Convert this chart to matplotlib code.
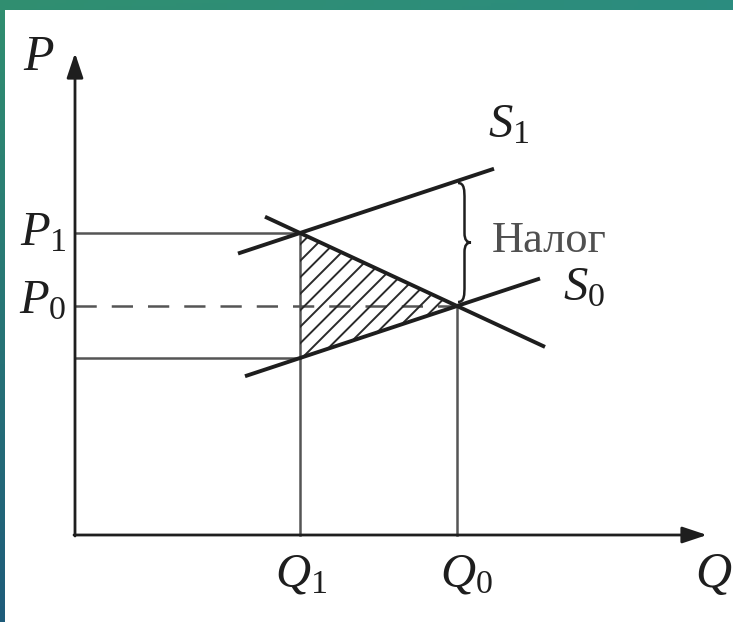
import numpy as np
import matplotlib
matplotlib.use('Agg')
import matplotlib.pyplot as plt
from matplotlib.patches import Polygon, PathPatch, Rectangle
from matplotlib.path import Path

plt.rcParams['mathtext.fontset'] = 'custom'
plt.rcParams['mathtext.rm'] = 'Liberation Serif'
plt.rcParams['mathtext.it'] = 'Liberation Serif:italic'

# market values (1 unit = 10 px on the picture)
Q1, Q0 = 22.5, 38.2          # quantity with tax, without tax
P1, P0, Pc = 30.2, 22.9, 17.7  # buyer price, old price, seller price
tax = P1 - Pc

# demand through (Q1,P1),(Q0,P0); supply S0 through (Q1,Pc),(Q0,P0)
d_slope = (P0 - P1) / (Q0 - Q1)
s_slope = (P0 - Pc) / (Q0 - Q1)
D_range = [19.0, 47.0]
S0_range = [17.0, 46.5]
S1_range = [16.3, 41.9]

def demand(q):
    return P1 + d_slope * (np.asarray(q) - Q1)

def supply0(q):
    return Pc + s_slope * (np.asarray(q) - Q1)

def supply1(q):
    return supply0(q) + tax

fig = plt.figure(figsize=(7.33, 6.22), dpi=100)

# teal background frame
bg = fig.add_axes([0, 0, 1, 1])
yy, xx = np.mgrid[0:1:200j, 0:1:200j]
top_l = np.array([0.19, 0.56, 0.44])
top_r = np.array([0.17, 0.55, 0.50])
bot_l = np.array([0.12, 0.36, 0.48])
img = (top_l * (1 - xx)[..., None] * (1 - yy)[..., None]
       + top_r * xx[..., None] * (1 - yy)[..., None]
       + bot_l * (1 - xx)[..., None] * yy[..., None]
       + top_r * xx[..., None] * yy[..., None])
bg.imshow(img, extent=[0, 1, 0, 1], aspect='auto')
bg.set_axis_off()
bg.add_patch(Rectangle((5 / 733, 0), 1, 612 / 622, facecolor='white',
                       edgecolor='none', transform=fig.transFigure))

ax = fig.add_axes([0, 0, 1, 1])
ax.patch.set_alpha(0)
ax.set_xlim(-7.5, 65.8)
ax.set_ylim(-8.7, 53.5)
ax.set_axis_off()

ink = '#1e1e1e'
guide = '#555555'

# axes with arrows
arr = dict(arrowstyle='-|>,head_length=1.5,head_width=0.5', lw=2.0,
           color=ink, shrinkA=0, shrinkB=0)
ax.annotate('', xy=(0, 48.2), xytext=(0, -0.1), arrowprops=arr)
ax.annotate('', xy=(63.2, 0), xytext=(-0.1, 0), arrowprops=arr)

# guide lines
ax.plot([0, Q1], [P1, P1], color=guide, lw=1.8)
ax.plot([0, Q1], [Pc, Pc], color=guide, lw=1.8)
ax.plot([0, Q0], [P0, P0], color=guide, lw=1.8, linestyle=(0, (8.5, 6)))
ax.plot([Q1, Q1], [0, P1], color=guide, lw=1.8)
ax.plot([Q0, Q0], [0, P0], color=guide, lw=1.8)

# deadweight loss triangle, hatched with 45 degree lines
tri = Polygon([(Q1, P1), (Q1, Pc), (Q0, P0)], closed=True, fill=False,
              edgecolor='none', lw=0)
ax.add_patch(tri)
for c in np.arange(Pc - Q0 - 1.0, P1 - Q1 + 0.1, 1.65):
    ln, = ax.plot([Q1 - 2, Q0 + 2], [Q1 - 2 + c, Q0 + 2 + c],
                  color='#2a2a2a', lw=1.4)
    ln.set_clip_path(tri)

# demand and supply lines
ax.plot(D_range, demand(D_range), color=ink, lw=2.8, solid_capstyle='butt')
ax.plot(S0_range, supply0(S0_range), color=ink, lw=2.8, solid_capstyle='butt')
ax.plot(S1_range, supply1(S1_range), color=ink, lw=2.8, solid_capstyle='butt')

# brace showing the tax
def brace(x, y0, y1, w):
    h = y1 - y0
    ym = (y0 + y1) / 2
    xm = x + w * 0.5
    verts = [(x, y1),
             (xm, y1), (xm, y1 - 0.06 * h), (xm, y1 - 0.14 * h),
             (xm, ym + 0.08 * h),
             (xm, ym + 0.02 * h), (x + w * 0.7, ym), (x + w, ym),
             (x + w * 0.7, ym), (xm, ym - 0.02 * h), (xm, ym - 0.08 * h),
             (xm, y0 + 0.14 * h),
             (xm, y0 + 0.06 * h), (xm, y0), (x, y0)]
    codes = ([Path.MOVETO] + [Path.CURVE4] * 3 + [Path.LINETO]
             + [Path.CURVE4] * 6 + [Path.LINETO] + [Path.CURVE4] * 3)
    return Path(verts, codes)

ax.add_patch(PathPatch(brace(38.3, 23.3, 35.2, 1.3), fill=False,
                       edgecolor=ink, lw=1.8))

# labels
big = 36
mid = 35
ax.text(-3.6, 46.5, r'$P$', fontsize=big, color=ink, ha='center', va='baseline')
ax.text(62.0, -5.2, r'$Q$', fontsize=big, color=ink, ha='left', va='baseline')
ax.text(-0.8, 29.0, r'$P_1$', fontsize=mid, color=ink, ha='right', va='baseline')
ax.text(-0.8, 22.2, r'$P_0$', fontsize=mid, color=ink, ha='right', va='baseline')
ax.text(20.0, -5.2, r'$Q_1$', fontsize=mid, color=ink, ha='left', va='baseline')
ax.text(36.5, -5.2, r'$Q_0$', fontsize=mid, color=ink, ha='left', va='baseline')
ax.text(41.3, 39.8, r'$S_1$', fontsize=mid, color=ink, ha='left', va='baseline')
ax.text(48.8, 23.5, r'$S_0$', fontsize=mid, color=ink, ha='left', va='baseline')
ax.text(41.7, 28.3, 'Налог', fontsize=32, family='Liberation Serif',
        color='#505050', ha='left', va='baseline')

fig.savefig('out.png', dpi=100)
